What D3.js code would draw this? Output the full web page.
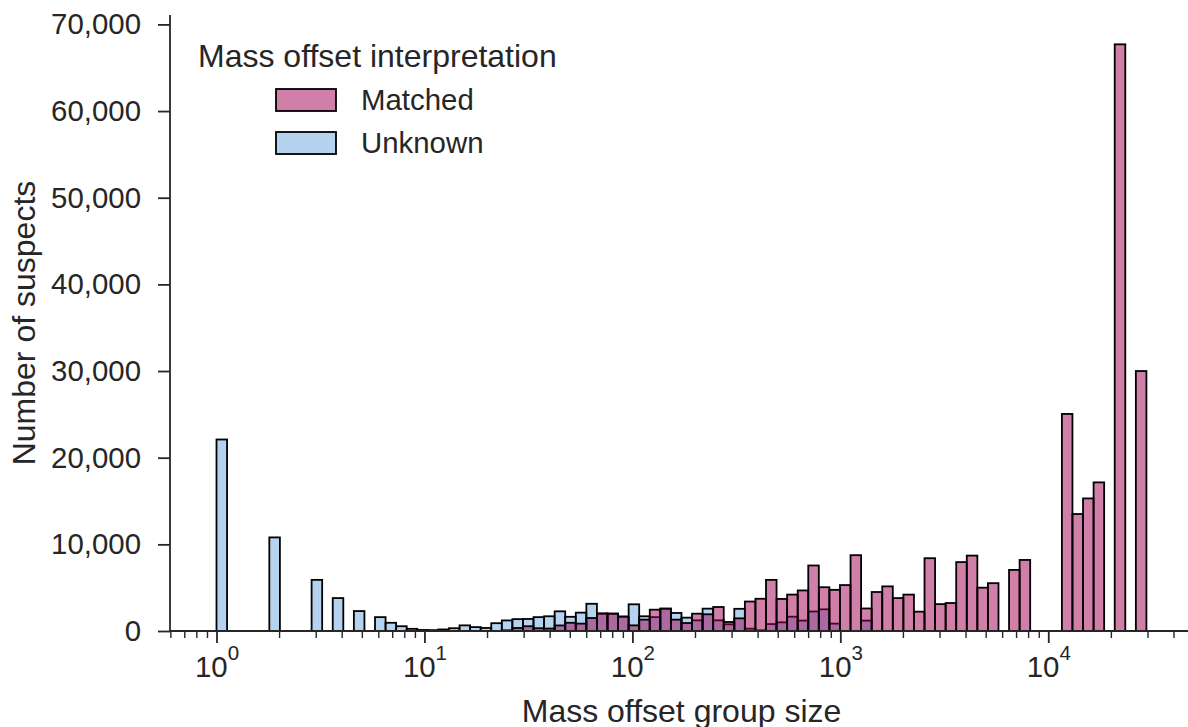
<!DOCTYPE html>
<html>
<head>
<meta charset="utf-8">
<script src="https://cdn.jsdelivr.net/npm/d3@7"></script>
<style>
  body { margin: 0; background: #fff; }
  text { font-family: "Liberation Sans", Arial, sans-serif; fill: #262626; }
</style>
</head>
<body>
<div id="d3-container"></div>
<script>
/**
 * CONSTANTS AND DATA
 * */
const width = 1188,
  height = 727;

const seriesNames = ["Matched", "Unknown"];
// log-spaced histogram bins over the group sizes
const groupSizeRange = [1, 29650];
const binCount = 88;

// number of suspects per bin (bin 0 = size 1 ... bin 87 = ~30k)
const matched = [
  0, 0, 0, 0, 0, 0, 0, 0, 0, 0,
  0, 0, 0, 0, 0, 0, 0, 0, 0, 0,
  0, 0, 0, 0, 0, 0, 0, 80, 350, 550,
  320, 280, 640, 950, 850, 1500, 2030, 2020, 1670, 650,
  1310, 2460, 2600, 1310, 920, 2000, 1930, 2770, 1040, 1460,
  3400, 3720, 5900, 3700, 4200, 4680, 7560, 5050, 4750, 5300,
  8750, 2600, 4500, 5150, 3800, 4200, 2230, 8400, 3100, 3230,
  7950, 8700, 5000, 5520, 0, 7050, 8200, 0, 0, 0,
  25050, 13500, 15300, 17150, 0, 67700, 0, 30000
];
const unknown = [
  22100, 0, 0, 0, 0, 10800, 0, 0, 0, 5900,
  0, 3800, 0, 2300, 0, 1600, 950, 550, 250, 120,
  100, 180, 320, 650, 450, 350, 900, 1220, 1370, 1390,
  1600, 1700, 2270, 1640, 2120, 3140, 2000, 1980, 1650, 3080,
  1700, 1600, 2550, 2080, 1540, 1230, 2580, 1230, 770, 2560,
  270, 80, 800, 1000, 1650, 1200, 2250, 2500, 850, 0,
  0, 1200, 0, 0, 0, 0, 0, 0, 0, 0,
  0, 0, 0, 0, 0, 0, 0, 0, 0, 0,
  0, 0, 0, 0, 0, 0, 0, 0
];

const yTicks = [0, 10000, 20000, 30000, 40000, 50000, 60000, 70000];
const xMajorTicks = [1, 10, 100, 1000, 10000];
const xTickExponents = ["0", "1", "2", "3", "4"];

const colors = { Matched: "rgb(159,0,82)", Unknown: "rgb(107,167,221)" };
const fillAlpha = 0.5;
const ink = "#262626";

/**
 * SVG
 * */
const svg = d3
  .select("#d3-container")
  .append("svg")
  .attr("width", width)
  .attr("height", height);

// SCALES
const xScale = d3
  .scaleLog()
  .domain([Math.pow(10, -0.2236), Math.pow(10, 4.696)])
  .range([170, 1193]);

const yScale = d3
  .scaleLinear()
  .domain([0, 71085])
  .range([631, 15]);

// bin edges
const logMin = Math.log10(groupSizeRange[0]),
  logMax = Math.log10(groupSizeRange[1]);
const edges = d3.range(binCount + 1).map(i => Math.pow(10, logMin + (logMax - logMin) * i / binCount));

const seriesData = { Matched: matched, Unknown: unknown };

// BARS (unknown underneath, matched layered on top)
["Unknown", "Matched"].forEach(name => {
  const bins = seriesData[name]
    .map((v, i) => ({ v, x0: edges[i], x1: edges[i + 1] }))
    .filter(d => d.v > 0);
  svg
    .append("g")
    .attr("class", "bars " + name)
    .selectAll("rect")
    .data(bins)
    .join("rect")
    .attr("x", d => xScale(d.x0))
    .attr("width", d => xScale(d.x1) - xScale(d.x0))
    .attr("y", d => yScale(d.v))
    .attr("height", d => yScale(0) - yScale(d.v))
    .attr("fill", colors[name])
    .attr("fill-opacity", fillAlpha)
    .attr("stroke", "#000")
    .attr("stroke-width", 1.8);
});

// AXES
const xMinorTicks = [];
for (let e = -1; e <= 4; e++) {
  for (let m = 2; m <= 9; m++) {
    const v = m * Math.pow(10, e);
    if (v >= xScale.domain()[0] && v <= xScale.domain()[1]) xMinorTicks.push(v);
  }
}

const yAxis = d3.axisLeft(yScale)
  .tickValues(yTicks)
  .tickFormat(d3.format(","))
  .tickSize(12)
  .tickPadding(17);

svg.append("g")
  .attr("class", "axis y-axis")
  .attr("transform", "translate(170,0)")
  .call(yAxis)
  .call(g => g.select(".domain").remove())
  .call(g => g.selectAll("line").attr("stroke", ink).attr("stroke-width", 1.8))
  .call(g => g.selectAll("text")
    .attr("font-size", 29.4)
    .attr("font-family", "'Liberation Sans', Arial, sans-serif")
    .attr("fill", ink));

svg.append("g")
  .attr("class", "axis x-minor")
  .attr("transform", "translate(0,631)")
  .call(d3.axisBottom(xScale).tickValues(xMinorTicks).tickFormat("").tickSize(7))
  .call(g => g.select(".domain").remove())
  .call(g => g.selectAll("line").attr("stroke", ink).attr("stroke-width", 1.4));

const xAxis = svg.append("g")
  .attr("class", "axis x-axis")
  .attr("transform", "translate(0,631)")
  .call(d3.axisBottom(xScale).tickValues(xMajorTicks).tickFormat("").tickSize(12))
  .call(g => g.select(".domain").remove())
  .call(g => g.selectAll("line").attr("stroke", ink).attr("stroke-width", 1.8));

// 10^n tick labels
xAxis.selectAll(".tick").each(function (d, i) {
  const t = d3.select(this).append("text")
    .attr("y", 46)
    .attr("text-anchor", "middle")
    .attr("fill", ink);
  t.append("tspan").attr("font-size", 29.4).text("10");
  t.append("tspan").attr("font-size", 20.5).attr("dy", -17).text(xTickExponents[i]);
});

// spines
svg.append("line")
  .attr("x1", 170).attr("x2", 170)
  .attr("y1", yScale.range()[1]).attr("y2", 631)
  .attr("stroke", ink).attr("stroke-width", 1.8);
svg.append("line")
  .attr("x1", 170).attr("x2", xScale.range()[1])
  .attr("y1", 631).attr("y2", 631)
  .attr("stroke", ink).attr("stroke-width", 1.8);

// axis labels
svg.append("text")
  .attr("x", (170 + xScale.range()[1]) / 2)
  .attr("y", 722)
  .attr("text-anchor", "middle")
  .attr("font-size", 32)
  .text("Mass offset group size");

svg.append("text")
  .attr("transform", "translate(35,323) rotate(-90)")
  .attr("text-anchor", "middle")
  .attr("font-size", 32)
  .text("Number of suspects");

// LEGEND
const legend = svg.append("g").attr("class", "legend");
legend.append("text")
  .attr("x", 198)
  .attr("y", 67)
  .attr("font-size", 32)
  .text("Mass offset interpretation");

seriesNames.forEach((name, i) => {
  legend.append("rect")
    .attr("x", 276)
    .attr("y", 89 + i * 43)
    .attr("width", 60)
    .attr("height", 22)
    .attr("fill", colors[name])
    .attr("fill-opacity", fillAlpha)
    .attr("stroke", "#000")
    .attr("stroke-width", 1.8);
  legend.append("text")
    .attr("x", 361)
    .attr("y", 110 + i * 43)
    .attr("font-size", 29.4)
    .text(name);
});
</script>
</body>
</html>
